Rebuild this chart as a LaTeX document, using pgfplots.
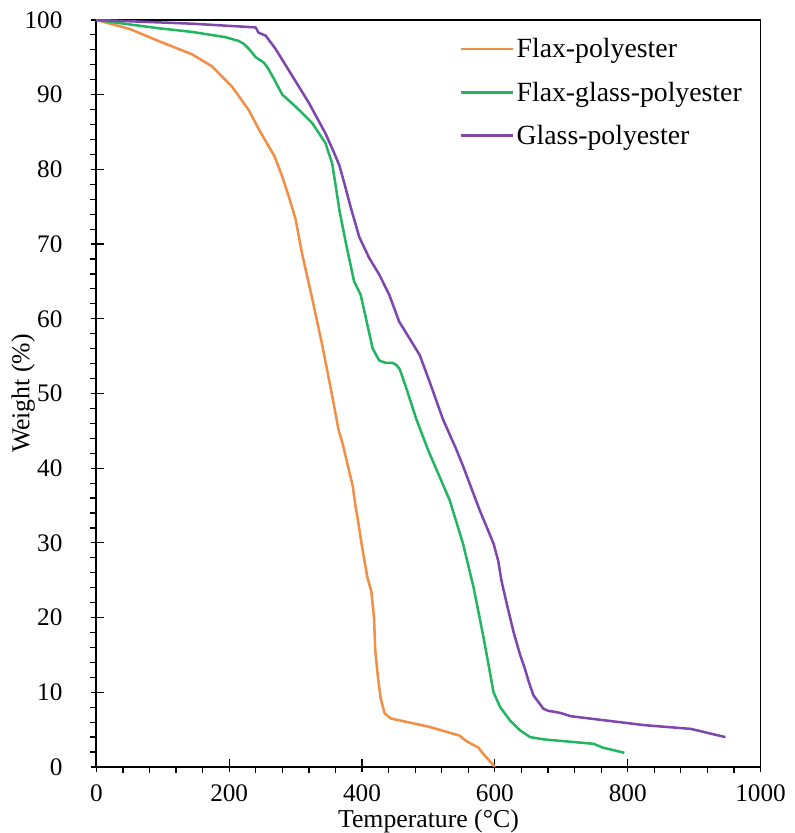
\documentclass[border=0pt]{standalone}
\usepackage{fontspec}
\setmainfont{Liberation Serif}
\usepackage{pgfplots}
\pgfplotsset{compat=1.18}
\definecolor{corange}{HTML}{F28E45}
\definecolor{cgreen}{HTML}{23B561}
\definecolor{cpurple}{HTML}{7E47AE}
\begin{document}
\begin{tikzpicture}[font=\fontsize{25.5}{30}\selectfont]
\begin{axis}[
  scale only axis, width=658pt, height=740pt,
  xmin=0, xmax=1000, ymin=0, ymax=100,
  xtick={0,200,...,1000}, ytick={0,10,...,100},
  minor x tick num=4, minor y tick num=4,
  xtick pos=bottom, ytick pos=left,
  tick align=outside,
  major tick length=13pt, minor tick length=6pt,
  every tick/.style={black, line width=1.2pt},
  major x tick style={yshift=8pt},
  major y tick style={xshift=8pt},
  axis line style={line width=1.8pt},
  /pgf/number format/assume math mode=true,
  /pgf/number format/1000 sep={},
  tick label style={font=\fontsize{25}{30}\selectfont},
  xticklabel style={yshift=-4pt, inner sep=0.5pt},
  yticklabel style={xshift=-17pt},
  xlabel={Temperature (\textdegree C)},
  ylabel={Weight (\%)},
  xlabel style={yshift=-6pt, inner sep=0.5pt},
  ylabel style={yshift=-17pt},
  legend style={at={(0.542,0.981)}, anchor=north west, draw=none, fill=none, row sep=18.5pt, font=\fontsize{27.5}{31}\selectfont},
  legend cell align=left,
  legend image code/.code={\draw[#1] (0pt,0pt) -- (52pt,0pt);},
  every axis plot/.append style={line width=2.5pt, no markers, line join=round},
]
\addplot[corange] coordinates {
(0,100) (50,98.8) (93,97.2) (144,95.4) (174,93.8) (204,91.1) (229,88) (245,85.3) (260,83) (268,81.8) (280,79) (290,76.3) (300,73.3) (310,68.6) (325,62.7) (340,56.5) (355,49.7) (365,45) (371,43.2) (386,37.6) (390,35) (393,33.5) (400,29.5) (408,25.4) (414,23.5) (418,20) (420,15.5) (424,12) (428,9.2) (434,7.2) (443,6.5) (500,5.4) (547,4.2) (552,3.8) (560,3.3) (575,2.6) (582,1.8) (590,1) (600,0)
};
\addlegendentry{Flax-polyester}
\addplot[cgreen] coordinates {
(0,100) (50,99.4) (93,98.9) (144,98.4) (194,97.7) (214,97.2) (222,96.8) (230,96.1) (240,95) (252,94.3) (258,93.6) (265,92.5) (280,90) (300,88.4) (325,86.2) (345,83.5) (355,80.8) (360,78) (366,74.5) (376,70) (388,65) (398,63.2) (406,60) (416,56) (426,54.4) (436,54.1) (446,54.1) (452,53.8) (457,53.2) (467,50.6) (482,46.5) (500,42.3) (532,35.7) (552,29.9) (568,24) (583,17.3) (598,10) (608,8) (623,6.2) (638,4.9) (653,4) (673,3.7) (749,3.1) (762,2.6) (795,1.9)
};
\addlegendentry{Flax-glass-polyester}
\addplot[cpurple] coordinates {
(0,100) (144,99.5) (240,99) (244,98.3) (255,97.9) (270,96.1) (295,92.5) (320,88.9) (345,84.8) (358,82.2) (366,80.5) (375,77.6) (383,74.9) (396,70.9) (411,68.1) (426,65.9) (441,63.2) (456,59.6) (472,57.3) (487,55.1) (502,51.5) (522,46.5) (542,42.5) (552,40.3) (577,34.4) (598,29.9) (605,27.6) (610,24.9) (618,21.8) (628,18.1) (638,15) (645,13.2) (651,11.4) (658,9.6) (673,7.8) (681,7.5) (689,7.4) (700,7.2) (714,6.8) (825,5.6) (895,5.1) (947,4.0)
};
\addlegendentry{Glass-polyester}
\end{axis}
\path ([yshift=8pt]current bounding box.north);
\path ([xshift=-8pt]current bounding box.west);
\path ([xshift=8pt]current bounding box.east);
\end{tikzpicture}
\end{document}
